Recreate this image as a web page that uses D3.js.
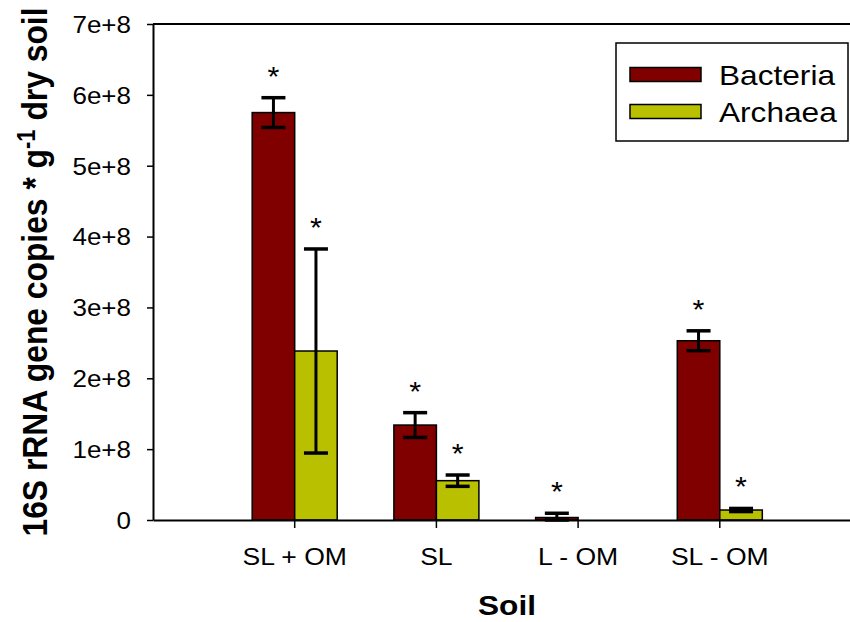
<!DOCTYPE html>
<html>
<head>
<meta charset="utf-8">
<script src="https://cdn.jsdelivr.net/npm/d3@7"></script>
<style>
  body { margin: 0; background: #fff; }
  svg { display: block; }
  text { font-family: "Liberation Sans", Arial, sans-serif; fill: #000; }
</style>
</head>
<body>
<div id="chart"></div>
<script>
// Data
var soils = ["SL + OM", "SL", "L - OM", "SL - OM"];
var bacteria = [5.75e8, 1.34e8, 0.035e8, 2.53e8];
var bacteriaErr = [0.21e8, 0.175e8, 0.06e8, 0.14e8];
var archaea = [2.385e8, 0.555e8, 0, 0.141e8];
var archaeaErr = [1.44e8, 0.08e8, 0, 0.022e8];
var bacteriaStar = [true, true, true, true];
var archaeaStar = [true, true, false, true];
var yTicks = [0, 1e8, 2e8, 3e8, 4e8, 5e8, 6e8, 7e8];
var yTickLabels = ["0", "1e+8", "2e+8", "3e+8", "4e+8", "5e+8", "6e+8", "7e+8"];
var seriesNames = ["Bacteria", "Archaea"];
var seriesColors = ["#800000", "#b9c000"];

// the text in the picture is a bit wider than Arial
var sx = 1.13;

var svgWidth = 850;
var svgHeight = 622;
var chartMargin = { top: 24, left: 153 };
var chartWidth = 708.5;   // runs past the right edge like the original
var chartHeight = 496;

var svg = d3.select("#chart")
  .append("svg")
  .attr("width", svgWidth)
  .attr("height", svgHeight);

svg.append("rect").attr("width", svgWidth).attr("height", svgHeight).attr("fill", "#fff");

var chartGroup = svg.append("g")
  .attr("transform", `translate(${chartMargin.left}, ${chartMargin.top})`);

var xBand = d3.scaleBand()
  .domain(soils)
  .range([0, chartWidth])
  .paddingInner(0)
  .paddingOuter(0.5);

var yLinearScale = d3.scaleLinear()
  .domain([0, 7e8])
  .range([chartHeight, 0]);

var barW = xBand.bandwidth() * 0.3;
function center(i) { return xBand(soils[i]) + xBand.bandwidth() / 2; }

// top frame line
chartGroup.append("line")
  .attr("x1", 0).attr("x2", chartWidth)
  .attr("y1", 0).attr("y2", 0)
  .attr("stroke", "#000").attr("stroke-width", 2);

// bars
var series = [
  { vals: bacteria, errs: bacteriaErr, stars: bacteriaStar, color: seriesColors[0], off: -1 },
  { vals: archaea, errs: archaeaErr, stars: archaeaStar, color: seriesColors[1], off: 0 }
];

series.forEach(function(s) {
  var rows = soils.map(function(c, i) {
    return { i: i, v: s.vals[i], e: s.errs[i], star: s.stars[i] };
  });

  chartGroup.selectAll(null)
    .data(rows.filter(d => d.v > 0))
    .enter()
    .append("rect")
    .attr("x", d => center(d.i) + s.off * barW)
    .attr("y", d => yLinearScale(d.v))
    .attr("width", barW)
    .attr("height", d => yLinearScale(0) - yLinearScale(d.v))
    .attr("fill", s.color)
    .attr("stroke", "#000")
    .attr("stroke-width", 1.5);

  // error bars
  var eb = chartGroup.selectAll(null)
    .data(rows.filter(d => d.e > 0))
    .enter()
    .append("g")
    .attr("stroke", "#000");

  eb.append("line")
    .attr("x1", d => center(d.i) + s.off * barW + barW / 2)
    .attr("x2", d => center(d.i) + s.off * barW + barW / 2)
    .attr("y1", d => yLinearScale(d.v + d.e))
    .attr("y2", d => yLinearScale(Math.max(0, d.v - d.e)))
    .attr("stroke-width", 3);

  [1, -1].forEach(function(sign) {
    eb.append("line")
      .attr("x1", d => center(d.i) + s.off * barW + barW / 2 - 12)
      .attr("x2", d => center(d.i) + s.off * barW + barW / 2 + 12)
      .attr("y1", d => yLinearScale(Math.max(0, d.v + sign * d.e)))
      .attr("y2", d => yLinearScale(Math.max(0, d.v + sign * d.e)))
      .attr("stroke-width", 3.5);
  });

  // significance stars
  chartGroup.selectAll(null)
    .data(rows.filter(d => d.star))
    .enter()
    .append("text")
    .attr("text-anchor", "middle")
    .attr("font-size", 27)
    .attr("transform", d => `translate(${center(d.i) + s.off * barW + barW / 2}, ${yLinearScale(d.v + d.e) - 12}) scale(${sx},1)`)
    .text("*");
});

// axes
var leftAxis = d3.axisLeft(yLinearScale)
  .tickValues(yTicks)
  .tickFormat((d, i) => yTickLabels[i])
  .tickSize(6)
  .tickSizeOuter(0);

var bottomAxis = d3.axisBottom(xBand)
  .tickSize(8)
  .tickSizeOuter(0);

var yAxis = chartGroup.append("g").call(leftAxis);
yAxis.select(".domain").attr("stroke-width", 2);
yAxis.selectAll(".tick line").attr("stroke-width", 1.5);
yAxis.selectAll(".tick text")
  .attr("x", null)
  .attr("dy", "0.36em")
  .attr("font-size", 23)
  .attr("transform", `translate(-22,0) scale(${sx},1)`);

var xAxis = chartGroup.append("g")
  .attr("transform", `translate(0, ${chartHeight})`)
  .call(bottomAxis);
xAxis.select(".domain").attr("stroke-width", 2);
xAxis.selectAll(".tick line").attr("stroke-width", 1.5);
xAxis.selectAll(".tick text")
  .attr("y", null)
  .attr("dy", null)
  .attr("font-size", 23.5)
  .attr("transform", `translate(0,45) scale(${sx},1)`);
svg.selectAll(".tick text").attr("fill", "#000");
svg.selectAll("g[font-family]").attr("font-family", null).attr("font-size", null);

// axis titles
svg.append("text")
  .attr("text-anchor", "middle")
  .attr("font-weight", "bold")
  .attr("font-size", 28)
  .attr("transform", `translate(${chartMargin.left + 354}, 615) scale(${sx},1)`)
  .text("Soil");

var yLabel = svg.append("text")
  .attr("text-anchor", "middle")
  .attr("font-weight", "bold")
  .attr("font-size", 31.8)
  .attr("transform", `translate(47, ${chartMargin.top + chartHeight / 2}) scale(${sx},1) rotate(-90)`);
yLabel.append("tspan").text("16S rRNA gene copies * g");
yLabel.append("tspan").attr("font-size", 22).attr("dy", -11).text("-1");
yLabel.append("tspan").attr("dy", 11).text(" dry soil");

// legend
var legend = svg.append("g").attr("transform", "translate(616, 43)");
legend.append("rect")
  .attr("width", 232)
  .attr("height", 98)
  .attr("fill", "#fff")
  .attr("stroke", "#000")
  .attr("stroke-width", 1.5);

seriesNames.forEach(function(name, i) {
  legend.append("rect")
    .attr("x", 14)
    .attr("y", 24.5 + i * 37)
    .attr("width", 71)
    .attr("height", 14)
    .attr("fill", seriesColors[i])
    .attr("stroke", "#000")
    .attr("stroke-width", 1.5);
  legend.append("text")
    .attr("font-size", 28)
    .attr("transform", `translate(103, ${41.5 + i * 37}) scale(${sx},1)`)
    .text(name);
});
</script>
</body>
</html>
